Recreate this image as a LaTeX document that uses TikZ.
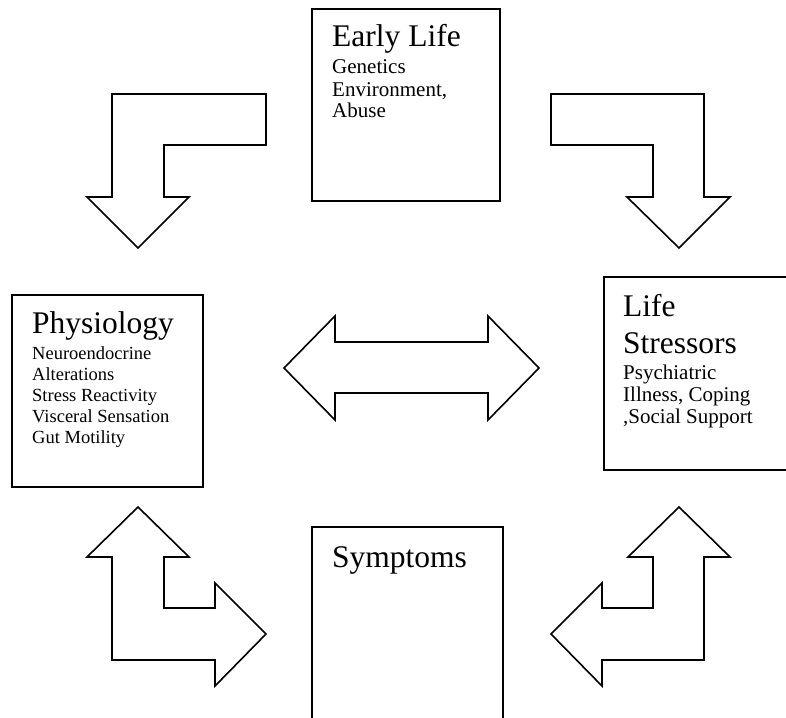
\documentclass[tikz,border=0pt]{standalone}
\usepackage{fontspec}
\setmainfont{Liberation Serif}
\begin{document}
\begin{tikzpicture}[x=1pt,y=-1pt,
  box/.style={draw=black,line width=1.7pt,fill=white,anchor=north west,inner sep=0pt},
  blockarrow/.style={draw=black,line width=1.6pt,fill=white,line join=miter},
  big/.style={anchor=base west,inner sep=0pt,font=\fontsize{31.5}{36}\selectfont},
  small/.style={anchor=base west,inner sep=0pt,font=\fontsize{21}{24}\selectfont},
  smaller/.style={anchor=base west,inner sep=0pt,font=\fontsize{18.5}{21}\selectfont}]
\clip (0,0) rectangle (786,717);
\fill[white] (0,0) rectangle (786,717);

% boxes
\node[box,minimum width=188pt,minimum height=192pt] (early) at (311,8) {};
\node[box,minimum width=191pt,minimum height=192pt] (phys) at (11,294) {};
\node[box,minimum width=200pt,minimum height=193pt] (life) at (603,276) {};
\node[box,minimum width=191pt,minimum height=220pt] (symp) at (311,526) {};

% texts
\node[big] (t1) at (332,47) {Early Life};
\node[small] (t2) at (332,74) {Genetics};
\node[small] (t3) at (332,96) {Environment,};
\node[small] (t4) at (332,117) {Abuse};

\node[big] (p1) at (32,333) {Physiology};
\node[smaller] (p2) at (32,359) {Neuroendocrine};
\node[smaller] (p3) at (32,380) {Alterations};
\node[smaller] (p4) at (32,401) {Stress Reactivity};
\node[smaller] (p5) at (32,422) {Visceral Sensation};
\node[smaller] (p6) at (32,443) {Gut Motility};

\node[big] (l1) at (623,316) {Life};
\node[big] (l2) at (623,353) {Stressors};
\node[small] (l3) at (623,379) {Psychiatric};
\node[small] (l4) at (623,401) {Illness, Coping};
\node[small] (l5) at (623,423) {,Social Support};

\node[big] (s1) at (332,567) {Symptoms};

% block arrows
\draw[blockarrow] (266,94) -- (112,94) -- (112,197) -- (87,197) -- (138,248) -- (189,197) -- (164,197) -- (164,145) -- (266,145) -- cycle;
\draw[blockarrow] (551,94) -- (704,94) -- (704,197) -- (730,197) -- (679,248) -- (627,197) -- (653,197) -- (653,145) -- (551,145) -- cycle;
\draw[blockarrow] (284,368) -- (335,316) -- (335,342) -- (488,342) -- (488,316) -- (539,368) -- (488,420) -- (488,393) -- (335,393) -- (335,420) -- cycle;
\draw[blockarrow] (138,507) -- (189,557) -- (164,557) -- (164,608) -- (215,608) -- (215,583) -- (266,634) -- (215,686) -- (215,660) -- (112,660) -- (112,557) -- (87,557) -- cycle;
\draw[blockarrow] (679,507) -- (730,557) -- (704,557) -- (704,660) -- (602,660) -- (602,686) -- (551,634) -- (602,583) -- (602,608) -- (653,608) -- (653,557) -- (628,557) -- cycle;
\end{tikzpicture}
\end{document}
